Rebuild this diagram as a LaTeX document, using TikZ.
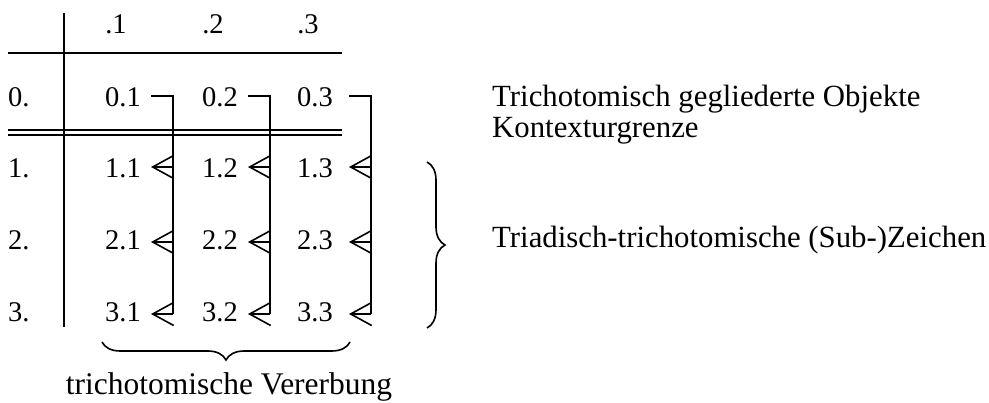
\documentclass[tikz,border=0pt]{standalone}
\usepackage{fontspec}
\setmainfont{Liberation Serif}
\usetikzlibrary{arrows.meta,calc,decorations.pathreplacing}
\begin{document}
\begin{tikzpicture}[x=1pt,y=-1pt,
  tab/.style={font=\fontsize{28.5}{30}\selectfont,inner sep=0pt,anchor=base},
  lab/.style={font=\fontsize{30.8}{33}\selectfont,inner sep=0pt,anchor=base west},
  rule/.style={line width=1.8pt},
  link/.style={line width=1.8pt},
  arr/.style={line width=1.6pt,-{Straight Barb[length=21pt,width=23pt,line width=1.6pt]}},
  brc/.style={line width=1.6pt,decorate,decoration={brace,amplitude=18pt}}]
\useasboundingbox (0,0) rectangle (989,403);
% table rules
\coordinate (vt) at (64,13);
\coordinate (vb) at (64,327);
\coordinate (h1l) at (8,53);
\coordinate (h1r) at (342,53);
\draw[rule] (vt) -- (vb);
\draw[rule] (h1l) -- (h1r);
\draw[line width=1.4pt] (8,130) -- (342,130);
\draw[line width=1.4pt] (8,135) -- (342,135);
% headers
\node[tab] (h1) at (116,34) {.1};
\node[tab] (h2) at (213,34) {.2};
\node[tab] (h3) at (308,34) {.3};
% row labels
\node[tab,anchor=base west] (r0) at (8,107) {0.};
\node[tab,anchor=base west] (r1) at (8,178) {1.};
\node[tab,anchor=base west] (r2) at (8,250) {2.};
\node[tab,anchor=base west] (r3) at (8,322) {3.};
% cells
\foreach \c/\x in {1/123,2/220,3/315}{
  \node[tab] (c0\c) at (\x,107) {0.\c};
  \node[tab] (c1\c) at (\x,178) {1.\c};
  \node[tab] (c2\c) at (\x,250) {2.\c};
  \node[tab] (c3\c) at (\x,322) {3.\c};
}
% connector coordinates
\foreach \c/\s/\v in {1/151/173,2/248/270,3/349/371}{
  \coordinate (s\c) at (\s,96);
  \coordinate (v\c) at (\v,96);
  \coordinate (t1\c) at (\s,167);
  \coordinate (t2\c) at (\s,242);
  \coordinate (t3\c) at (\s,314);
  \draw[link] (s\c) -- (v\c) -- (v\c |- t3\c);
  \draw[arr] (v\c |- t1\c) -- (t1\c);
  \draw[arr] (v\c |- t2\c) -- (t2\c);
  \draw[arr] (v\c |- t3\c) -- (t3\c);
}
% right texts
\node[lab] (o1) at (492,107) {Trichotomisch gegliederte Objekte};
\node[lab] (o2) at (492,138) {Kontexturgrenze};
\node[lab] (o3) at (492,248) {Triadisch-trichotomische (Sub-)Zeichen};
% braces
\coordinate (b1a) at (427,162);
\coordinate (b1b) at (427,328);
\draw[brc] (b1a) -- (b1b);
\coordinate (b2a) at (350,342);
\coordinate (b2b) at (102,342);
\draw[brc] (b2a) -- (b2b);
\node[lab,anchor=base,font=\fontsize{31.5}{33}\selectfont] (o4) at (229,395) {trichotomische Vererbung};
\end{tikzpicture}
\end{document}
